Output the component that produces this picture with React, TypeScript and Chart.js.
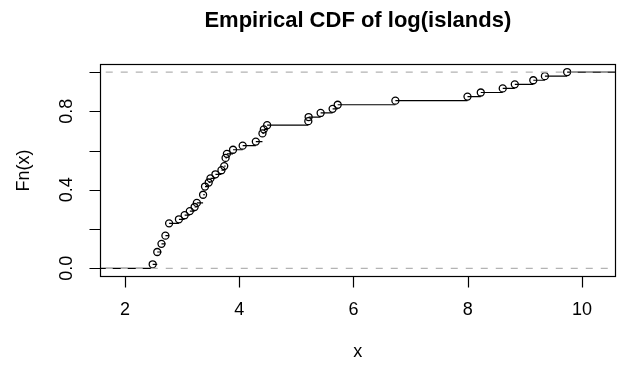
import React, { useEffect, useRef } from "react";
import { Chart, registerables } from "chart.js";

Chart.register(...registerables);

const TITLE = "Empirical CDF of log(islands)";
const X_TITLE = "x";
const Y_TITLE = "Fn(x)";

// distinct knots of ecdf(log(islands)) and Fn at each knot
const KNOTS = [
  2.4849, 2.5649, 2.6391, 2.7081, 2.7726, 2.9444, 3.0445, 3.1355, 3.2189, 3.2581,
  3.3673, 3.4012, 3.4657, 3.4965, 3.5835, 3.6889, 3.7377, 3.7612, 3.7842, 3.8918,
  4.0604, 4.2905, 4.4067, 4.4308, 4.4886, 5.2095, 5.2149, 5.4250, 5.6348, 5.7236,
  6.7334, 7.9956, 8.2282, 8.6125, 8.8238, 9.1475, 9.3507, 9.7401,
];
const FN = [
  0.0208, 0.0833, 0.125, 0.1667, 0.2292, 0.25, 0.2708, 0.2917, 0.3125, 0.3333,
  0.375, 0.4167, 0.4375, 0.4583, 0.4792, 0.5, 0.5208, 0.5625, 0.5833, 0.6042,
  0.625, 0.6458, 0.6875, 0.7083, 0.7292, 0.75, 0.7708, 0.7917, 0.8125, 0.8333,
  0.8542, 0.875, 0.8958, 0.9167, 0.9375, 0.9583, 0.9792, 1.0,
];

const X_TICKS = [2, 4, 6, 8, 10];
const X_TICK_LABELS = ["2", "4", "6", "8", "10"];
const Y_TICKS = [0, 0.2, 0.4, 0.6, 0.8, 1.0];
const Y_TICK_LABELS = ["0.0", "", "0.4", "", "0.8", ""];
const REF_LINES = [0, 1];

const X_MIN = 1.563;
const X_MAX = 10.59;
const Y_MIN = -0.044;
const Y_MAX = 1.041;

const FONT = '"Liberation Sans", Arial, Helvetica, sans-serif';

function buildSegments() {
  const pts: { x: number; y: number | null }[] = [];
  pts.push({ x: X_MIN - 2, y: 0 });
  pts.push({ x: KNOTS[0], y: 0 });
  for (let i = 0; i < KNOTS.length; i++) {
    pts.push({ x: KNOTS[i], y: null });
    const end = i + 1 < KNOTS.length ? KNOTS[i + 1] : X_MAX + 2;
    pts.push({ x: KNOTS[i], y: FN[i] });
    pts.push({ x: end, y: FN[i] });
  }
  return pts;
}

const axesPlugin = {
  id: "rAxes",
  afterDraw(chart: any) {
    const { ctx, chartArea } = chart;
    const xs = chart.scales.x;
    const ys = chart.scales.y;
    const L = Math.round(chartArea.left) + 0.5;
    const R = Math.round(chartArea.right) - 0.5;
    const T = Math.round(chartArea.top) + 0.5;
    const B = Math.round(chartArea.bottom) - 0.5;
    ctx.save();
    ctx.strokeStyle = "#000";
    ctx.fillStyle = "#000";
    ctx.lineWidth = 1.2;
    ctx.setLineDash([]);
    ctx.strokeRect(L, T, R - L, B - T);

    // x axis
    ctx.beginPath();
    X_TICKS.forEach((v) => {
      const px = Math.round(xs.getPixelForValue(v)) + 0.5;
      ctx.moveTo(px, B);
      ctx.lineTo(px, B + 11);
    });
    ctx.stroke();
    ctx.font = `18px ${FONT}`;
    ctx.textAlign = "center";
    ctx.textBaseline = "middle";
    X_TICKS.forEach((v, i) => {
      ctx.fillText(X_TICK_LABELS[i], xs.getPixelForValue(v), B + 34);
    });

    // y axis
    ctx.beginPath();
    Y_TICKS.forEach((v) => {
      const py = Math.round(ys.getPixelForValue(v)) + 0.5;
      ctx.moveTo(L - 11, py);
      ctx.lineTo(L, py);
    });
    ctx.stroke();
    Y_TICKS.forEach((v, i) => {
      if (!Y_TICK_LABELS[i]) return;
      ctx.save();
      ctx.translate(L - 33, ys.getPixelForValue(v));
      ctx.rotate(-Math.PI / 2);
      ctx.fillText(Y_TICK_LABELS[i], 0, 0);
      ctx.restore();
    });

    // axis titles
    const cx = (chartArea.left + chartArea.right) / 2;
    const cy = (chartArea.top + chartArea.bottom) / 2;
    ctx.fillText(X_TITLE, cx, B + 76);
    ctx.save();
    ctx.translate(L - 76, cy);
    ctx.rotate(-Math.PI / 2);
    ctx.fillText(Y_TITLE, 0, 0);
    ctx.restore();

    // main title
    ctx.font = `bold 22px ${FONT}`;
    ctx.fillText(TITLE, cx, 21);
    ctx.restore();
  },
};

export default function App() {
  const ref = useRef<HTMLCanvasElement | null>(null);
  useEffect(() => {
    if (!ref.current) return;
    const chart = new Chart(ref.current, {
      type: "line",
      data: {
        datasets: [
          {
            label: "ref",
            data: [
              { x: X_MIN - 2, y: REF_LINES[0] },
              { x: X_MAX + 2, y: REF_LINES[0] },
              { x: X_MAX + 2, y: null },
              { x: X_MIN - 2, y: REF_LINES[1] },
              { x: X_MAX + 2, y: REF_LINES[1] },
            ],
            borderColor: "#b3b3b3",
            borderWidth: 1.2,
            borderDash: [7, 8],
            pointRadius: 0,
            spanGaps: false,
            order: 0,
          } as any,
          {
            label: "points",
            data: KNOTS.map((x, i) => ({ x, y: FN[i] })),
            showLine: false,
            pointStyle: "circle",
            pointRadius: 3.5,
            pointBorderWidth: 1.3,
            pointBorderColor: "#000",
            pointBackgroundColor: "rgba(0,0,0,0)",
            order: 1,
          } as any,
          {
            label: "steps",
            data: buildSegments(),
            borderColor: "#000",
            borderWidth: 1.2,
            pointRadius: 0,
            spanGaps: false,
            order: 2,
          } as any,
        ],
      },
      options: {
        responsive: false,
        animation: false,
        layout: { padding: { left: 100, right: 5, top: 64, bottom: 89 } },
        plugins: { legend: { display: false }, tooltip: { enabled: false }, title: { display: false } },
        scales: {
          x: { type: "linear", min: X_MIN, max: X_MAX, display: false },
          y: { type: "linear", min: Y_MIN, max: Y_MAX, display: false },
        },
      },
      plugins: [axesPlugin],
    });
    return () => chart.destroy();
  }, []);
  return (
    <div style={{ position: "fixed", left: 0, top: 0, width: 621, height: 366, background: "#fff" }}>
      <canvas ref={ref} width={621} height={366} />
    </div>
  );
}
